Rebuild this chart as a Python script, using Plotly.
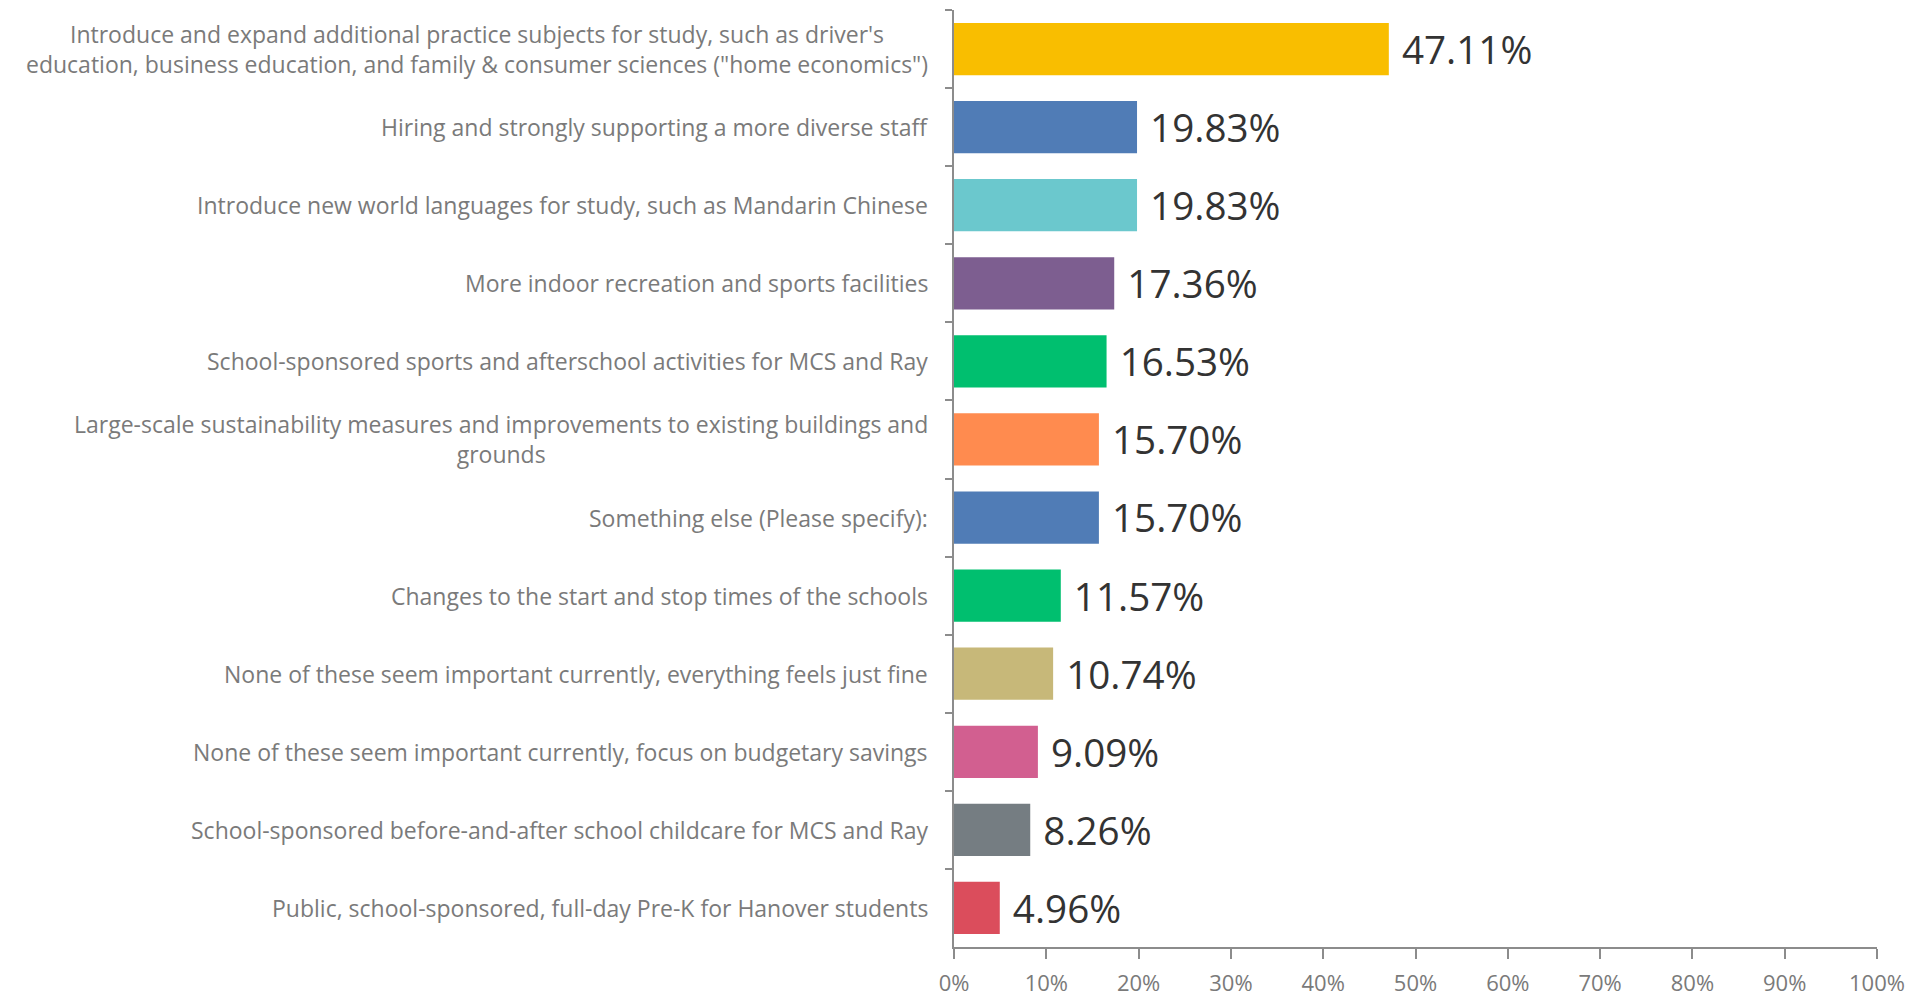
import plotly.graph_objects as go

# ---------------------------------------------------------------------------
# Data
# ---------------------------------------------------------------------------

categories = [
    "Introduce and expand additional practice subjects for study, such as driver's<br>"
    "education, business education, and family & consumer sciences (\"home economics\")",
    "Hiring and strongly supporting a more diverse staff",
    "Introduce new world languages for study, such as Mandarin Chinese",
    "More indoor recreation and sports facilities",
    "School-sponsored sports and afterschool activities for MCS and Ray",
    "Large-scale sustainability measures and improvements to existing buildings and<br>grounds",
    "Something else (Please specify):",
    "Changes to the start and stop times of the schools",
    "None of these seem important currently, everything feels just fine",
    "None of these seem important currently, focus on budgetary savings",
    "School-sponsored before-and-after school childcare for MCS and Ray",
    "Public, school-sponsored, full-day Pre-K for Hanover students",
]
values = [47.11, 19.83, 19.83, 17.36, 16.53, 15.70, 15.70, 11.57, 10.74, 9.09, 8.26, 4.96]
bar_colors = [
    "#F9BE00", "#507CB6", "#6BC8CD", "#7D5E90", "#00BF6F", "#FF8B4F",
    "#507CB6", "#00BF6F", "#C7B879", "#D25F90", "#757D82", "#DB4D5C",
]
x_ticks = [0, 10, 20, 30, 40, 50, 60, 70, 80, 90, 100]
x_tick_labels = [f"{t}%" for t in x_ticks]

FONT = "Open Sans"
AXIS_GREY = "#8c8c8c"
LABEL_GREY = "#7a7a7a"

# ---------------------------------------------------------------------------
# Figure
# ---------------------------------------------------------------------------

fig = go.Figure(
    go.Bar(
        x=values,
        y=categories,
        orientation="h",
        marker=dict(color=bar_colors, line=dict(width=0)),
        text=[f" {v:.2f}%" for v in values],
        textposition="outside",
        textfont=dict(family=FONT, size=48, color="#333333"),
        cliponaxis=False,
        hoverinfo="skip",
    )
)

# category labels drawn as annotations so wrapped lines can be centred
for cat in categories:
    fig.add_annotation(
        x=0,
        y=cat,
        xref="x",
        yref="y",
        text=cat,
        showarrow=False,
        xanchor="right",
        align="center",
        xshift=-24,
        font=dict(family=FONT, size=23, color=LABEL_GREY),
    )

# page body adds an 8px margin, so the figure is sized/offset to compensate
fig.update_layout(
    width=1907,
    height=995,
    margin=dict(l=946, r=38, t=2, b=56),
    plot_bgcolor="white",
    paper_bgcolor="white",
    bargap=0.33,
    showlegend=False,
    font=dict(family=FONT),
)

fig.update_xaxes(
    range=[0, 100],
    tickvals=x_ticks,
    ticktext=x_tick_labels,
    ticks="outside",
    ticklen=10,
    tickcolor=AXIS_GREY,
    tickwidth=1.5,
    ticklabelstandoff=6,
    showline=True,
    linecolor=AXIS_GREY,
    linewidth=2,
    showgrid=False,
    zeroline=False,
    tickfont=dict(family=FONT, size=22, color=LABEL_GREY),
)

fig.update_yaxes(
    autorange="reversed",
    showticklabels=False,
    ticks="outside",
    tickson="boundaries",
    ticklen=7,
    tickcolor=AXIS_GREY,
    tickwidth=1.5,
    showline=True,
    linecolor=AXIS_GREY,
    linewidth=2,
    showgrid=False,
)

fig.write_html("out.html")
